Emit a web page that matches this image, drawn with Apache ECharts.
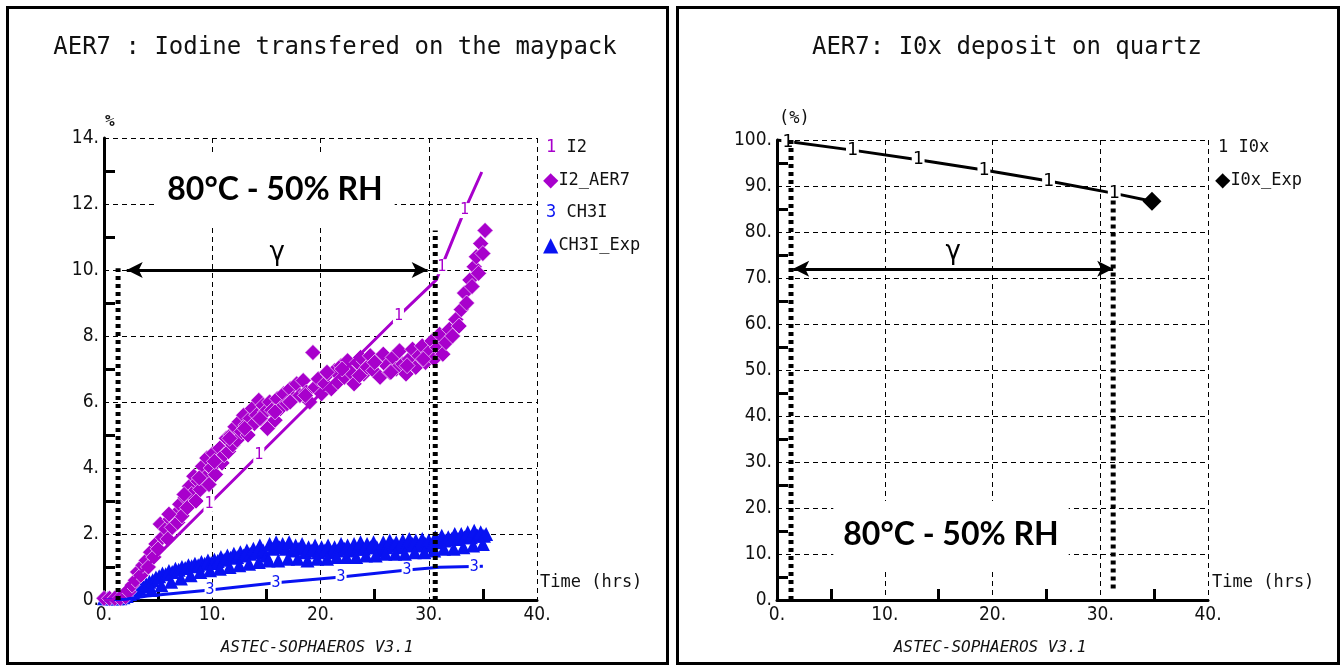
<!DOCTYPE html>
<html><head><meta charset="utf-8">
<script src="https://cdn.jsdelivr.net/npm/echarts@6/dist/echarts.min.js"></script>
<style>html,body{margin:0;padding:0;background:#fff}#c{width:1342px;height:666px}</style>
</head><body><div id="c"></div>
<script>
// ---------- DATA ----------
const leftTitle = 'AER7 : Iodine transfered on the maypack';
const rightTitle = 'AER7: I0x deposit on quartz';
const condText = '80°C - 50% RH';
const xMax = 40, xStep = 10;
const leftYMax = 14, leftYStep = 2;
const rightYMax = 100, rightYStep = 10;

// I2 simulation (curve "1")
const i2LineT = [0, 0.8, 9.7, 27.2, 30.7, 33.3, 34.9];
const i2LineV = [0, 0, 2.9, 8.6, 9.7, 11.8, 12.97];
const i2LabelT = [9.7, 14.3, 27.2, 31.2, 33.3];
const i2LabelV = [2.9, 4.4, 8.6, 10.1, 11.8];

// I2_AER7 experiment (diamonds)
const i2ExpT = [0.0,0.5,1.0,1.5,2.0,2.3,2.6,2.9,3.1,3.4,3.6,3.9,4.1,4.3,4.6,4.8,5.0,5.2,5.4,5.7,5.9,6.1,6.3,6.6,6.8,7.0,7.2,7.5,7.7,7.9,8.1,8.3,8.5,8.7,8.9,9.1,9.3,9.5,9.7,9.9,10.1,10.3,10.5,10.7,10.9,11.1,11.3,11.5,11.7,11.9,12.1,12.3,12.5,12.7,12.9,13.1,13.3,13.5,13.7,13.9,14.1,14.3,14.5,14.7,14.9,15.1,15.3,15.5,15.8,16.0,16.3,16.6,16.9,17.2,17.5,17.8,18.1,18.4,18.7,19.0,19.3,19.5,19.8,20.1,20.4,20.7,21.0,21.3,21.6,21.9,22.2,22.5,22.8,23.1,23.4,23.7,24.0,24.3,24.6,24.9,25.2,25.5,25.8,26.1,26.4,26.7,27.0,27.3,27.6,27.9,28.2,28.5,28.8,29.1,29.4,29.7,30.0,30.3,30.5,30.8,31.0,31.3,31.6,31.9,32.2,32.5,32.8,33.0,33.3,33.5,33.8,34.0,34.2,34.4,34.6,34.8,35.0,35.2,
  6.0,7.4,8.8,10.2,11.6,13.0,14.4,15.8,17.2,18.6,20.6,22.0,23.6,25.0,26.5,28.0,29.5];
const i2ExpV = [0.05,0.05,0.05,0.05,0.1,0.25,0.45,0.6,0.85,0.75,1.05,1.2,1.0,1.45,1.3,1.7,1.55,2.3,1.9,2.15,1.85,2.45,2.2,2.6,2.35,2.9,2.55,3.1,2.8,3.45,3.2,3.75,3.0,3.6,3.35,4.05,3.7,4.3,3.5,4.0,4.45,3.8,4.2,4.6,4.15,4.4,4.9,4.5,5.0,4.7,5.25,4.85,5.4,5.1,5.6,5.3,5.0,5.5,5.8,5.35,5.6,6.05,5.5,5.9,5.7,5.2,6.0,5.75,5.45,6.1,5.8,6.25,5.95,6.4,6.1,6.55,6.2,6.65,6.3,6.0,7.5,6.45,6.7,6.25,6.55,6.85,6.4,6.95,6.6,7.1,6.75,7.25,6.9,6.55,7.2,7.35,6.85,7.05,7.4,6.95,7.25,6.75,7.45,7.1,6.9,7.35,7.0,7.55,7.15,6.85,7.3,7.6,7.05,7.4,7.7,7.2,7.5,7.85,7.3,7.65,8.05,7.45,7.8,8.2,8.0,8.5,8.3,8.8,9.3,9.0,9.7,9.5,10.1,10.4,9.9,10.8,10.5,11.2,
  2.6,3.2,3.7,4.2,4.9,5.2,5.5,5.7,6.0,6.2,6.9,7.0,6.8,7.2,6.9,7.1,7.3];

// CH3I simulation (curve "3")
const ch3iLineT = [0, 2, 4, 9.8, 15.9, 21.9, 28.0, 31.0, 35.0];
const ch3iLineV = [0, 0.02, 0.12, 0.3, 0.52, 0.7, 0.91, 0.99, 1.02];
const ch3iLabelT = [9.8, 15.9, 21.9, 28.0, 34.2];
const ch3iLabelV = [0.3, 0.52, 0.7, 0.91, 1.01];

// CH3I_Exp experiment (triangles)
const ch3iExpT = [0.0,0.3,0.6,0.9,1.2,1.5,1.8,2.1,2.4,2.7,3.0,3.3,3.6,3.9,4.2,4.5,4.8,5.1,5.4,5.7,6.0,6.3,6.6,6.9,7.2,7.5,7.8,8.1,8.4,8.7,9.0,9.3,9.6,9.9,10.2,10.5,10.8,11.1,11.4,11.7,12.0,12.3,12.6,12.9,13.2,13.5,13.8,14.1,14.4,14.7,15.0,15.3,15.6,15.9,16.2,16.5,16.8,17.1,17.4,17.7,18.0,18.3,18.6,18.9,19.2,19.5,19.8,20.1,20.4,20.7,21.0,21.3,21.6,21.9,22.2,22.5,22.8,23.1,23.4,23.7,24.0,24.3,24.6,24.9,25.2,25.5,25.8,26.1,26.4,26.7,27.0,27.3,27.6,27.9,28.2,28.5,28.8,29.1,29.4,29.7,30.0,30.3,30.6,30.9,31.2,31.5,31.8,32.1,32.4,32.7,33.0,33.3,33.6,33.9,34.2,34.5,34.8,35.1,35.3,
  4.4,5.3,6.2,7.1,8.0,8.9,9.8,10.7,11.6,12.5,13.4,14.3,15.2,16.1,17.0,17.9,18.8,19.7,20.6,21.5,22.4,23.3,24.2,25.1,26.0,26.9,27.8,28.7,29.6,30.5,31.4,32.3,33.2,34.1,35.0];
const ch3iExpV = [0.05,0.05,0.05,0.05,0.05,0.05,0.08,0.12,0.18,0.22,0.3,0.35,0.42,0.48,0.55,0.6,0.68,0.72,0.8,0.78,0.88,0.85,0.95,0.92,1.0,0.97,1.05,1.02,1.1,1.05,1.15,1.1,1.2,1.12,1.22,1.18,1.3,1.22,1.35,1.28,1.4,1.3,1.45,1.35,1.5,1.4,1.55,1.45,1.65,1.5,1.35,1.7,1.55,1.75,1.6,1.7,1.55,1.75,1.5,1.65,1.55,1.7,1.45,1.6,1.5,1.65,1.45,1.6,1.5,1.65,1.45,1.6,1.5,1.7,1.55,1.65,1.5,1.7,1.55,1.75,1.55,1.7,1.6,1.75,1.6,1.5,1.75,1.6,1.8,1.65,1.75,1.6,1.8,1.65,1.85,1.7,1.8,1.65,1.85,1.7,1.8,1.65,1.9,1.75,1.95,1.8,1.9,1.85,2.0,1.85,2.0,1.9,2.05,1.9,2.1,1.95,2.05,1.95,2.0,
  0.3,0.45,0.55,0.65,0.75,0.85,0.9,0.95,1.0,1.05,1.1,1.15,1.2,1.2,1.25,1.25,1.2,1.25,1.25,1.3,1.3,1.3,1.35,1.35,1.4,1.4,1.4,1.45,1.45,1.5,1.55,1.55,1.6,1.65,1.7];

// I0x simulation (curve "1") and experiment
const i0xLineT = [0, 7.0, 13.1, 19.2, 25.2, 31.3, 34.8];
const i0xLineV = [100, 97.8, 95.7, 93.5, 91.1, 88.4, 86.7];
const i0xLabelT = [1.0, 7.0, 13.1, 19.2, 25.2, 31.3];
const i0xLabelV = [99.6, 97.8, 95.7, 93.5, 91.1, 88.4];
const i0xExpT = [34.8];
const i0xExpV = [86.7];

// gamma (γ) period markers
const gammaLeft  = {x1: 1.3, top1: 10.05, x2: 30.6, top2: 11.2, arrowY: 10, arrowFrom: 2.1, arrowTo: 29.9};
const gammaRight = {x1: 1.3, top1: 100, bottom1: 0, x2: 31.2, top2: 87, bottom2: 2.5, arrowY: 72, arrowFrom: 1.5, arrowTo: 31.2};

// ---------- CHART ----------
const zip = (a, b) => a.map((v, i) => [v, b[i]]);
const MAG = '#A800CC', BLUE = '#0812F2';
const MONO = "'DejaVu Sans Mono','Liberation Mono',monospace";
const AXF = "'DejaVu Sans Condensed','Liberation Sans Narrow','Liberation Sans',sans-serif";

function xAxisCfg(gi) {
  return {
    gridIndex: gi, type: 'value', min: 0, max: xMax, interval: xStep,
    axisLine: {show: true, onZero: false, lineStyle: {color: '#000', width: 3}},
    axisTick: {show: false, inside: true},
    minorTick: {show: true, splitNumber: 2, length: 11, lineStyle: {color: '#000', width: 3}},
    splitLine: {show: true, lineStyle: {color: '#000', width: 1, type: [5, 4]}},
    axisLabel: {formatter: v => v + '.', color: '#111', fontSize: 19, fontFamily: AXF, margin: 6}
  };
}
function yAxisCfg(gi, max, step) {
  return {
    gridIndex: gi, type: 'value', min: 0, max: max, interval: step,
    axisLine: {show: true, onZero: false, lineStyle: {color: '#000', width: 3}},
    axisTick: {show: false, inside: true},
    minorTick: {show: true, splitNumber: 2, length: 11, lineStyle: {color: '#000', width: 3}},
    splitLine: {show: true, lineStyle: {color: '#000', width: 1, type: [5, 4]}},
    axisLabel: {formatter: v => v + '.', color: '#111', fontSize: 19, fontFamily: AXF, margin: 5}
  };
}
function labelSeries(gi, t, v, txt, color, size) {
  return {
    type: 'scatter', xAxisIndex: gi, yAxisIndex: gi, data: zip(t, v),
    symbol: 'circle', symbolSize: 1, itemStyle: {color: 'rgba(0,0,0,0)', opacity: 1}, silent: true, z: 5,
    label: {show: true, position: 'inside', formatter: txt, color: color, fontSize: size,
            fontFamily: MONO, backgroundColor: '#fff', padding: [0, 1], lineHeight: size}
  };
}
function dotted(gi, x, y0, y1) {
  return {
    type: 'line', xAxisIndex: gi, yAxisIndex: gi, data: [[x, y0], [x, y1]], symbol: 'none', silent: true, z: 6,
    lineStyle: {color: '#000', width: 5, type: [4, 4], cap: 'butt'}
  };
}
function arrowSeries(gi, g) {
  return {
    type: 'line', xAxisIndex: gi, yAxisIndex: gi, data: [], silent: true, z: 6,
    markLine: {
      silent: true, animation: false, symbol: ['arrow', 'arrow'], symbolSize: [12, 16],
      lineStyle: {color: '#000', width: 3, type: 'solid'},
      label: {show: true, position: 'middle', formatter: 'γ', color: '#000', fontSize: 26,
              fontFamily: "'DejaVu Sans',sans-serif", distance: 4},
      emphasis: {disabled: true},
      data: [[{coord: [g.arrowFrom, g.arrowY]}, {coord: [g.arrowTo, g.arrowY]}]]
    }
  };
}
function txt(text, x, y, size, opts) {
  return Object.assign({
    type: 'text', z: 50,
    style: Object.assign({text: text, x: x, y: y, fontSize: size, fontFamily: MONO, fill: '#111',
      textAlign: 'left', textVerticalAlign: 'middle'}, opts || {})
  });
}

const option = {
  animation: false,
  backgroundColor: '#fff',
  grid: [
    {left: 104, top: 138, width: 433, height: 462},
    {left: 777, top: 140, width: 431, height: 460}
  ],
  xAxis: [xAxisCfg(0), xAxisCfg(1)],
  yAxis: [yAxisCfg(0, leftYMax, leftYStep), yAxisCfg(1, rightYMax, rightYStep)],
  series: [
    {name: 'CH3I_Exp', type: 'scatter', xAxisIndex: 0, yAxisIndex: 0, data: zip(ch3iExpT, ch3iExpV),
     symbol: 'triangle', symbolSize: 14, itemStyle: {color: BLUE, opacity: 1}, silent: true, z: 2},
    {name: 'I2_AER7', type: 'scatter', xAxisIndex: 0, yAxisIndex: 0, data: zip(i2ExpT, i2ExpV),
     symbol: 'diamond', symbolSize: 16, itemStyle: {color: MAG, opacity: 1, borderColor: '#fff', borderWidth: 0.6}, silent: true, z: 2},
    {name: 'CH3I', type: 'line', xAxisIndex: 0, yAxisIndex: 0, data: zip(ch3iLineT, ch3iLineV),
     symbol: 'none', lineStyle: {color: BLUE, width: 3}, silent: true, z: 3},
    {name: 'I2', type: 'line', xAxisIndex: 0, yAxisIndex: 0, data: zip(i2LineT, i2LineV),
     symbol: 'none', lineStyle: {color: MAG, width: 3}, silent: true, z: 3},
    labelSeries(0, i2LabelT, i2LabelV, '1', MAG, 15),
    labelSeries(0, ch3iLabelT, ch3iLabelV, '3', BLUE, 15),
    {name: 'I0x', type: 'line', xAxisIndex: 1, yAxisIndex: 1, data: zip(i0xLineT, i0xLineV),
     symbol: 'none', lineStyle: {color: '#000', width: 3}, silent: true, z: 3},
    labelSeries(1, i0xLabelT, i0xLabelV, '1', '#000', 18),
    {name: 'I0x_Exp', type: 'scatter', xAxisIndex: 1, yAxisIndex: 1, data: zip(i0xExpT, i0xExpV),
     symbol: 'diamond', symbolSize: 19, itemStyle: {color: '#000', opacity: 1}, silent: true, z: 4},
    dotted(0, gammaLeft.x1, 0, gammaLeft.top1),
    dotted(0, gammaLeft.x2, 0, gammaLeft.top2),
    arrowSeries(0, gammaLeft),
    dotted(1, gammaRight.x1, gammaRight.bottom1, gammaRight.top1),
    dotted(1, gammaRight.x2, gammaRight.bottom2, gammaRight.top2),
    arrowSeries(1, gammaRight)
  ],
  graphic: [
    {type: 'rect', z: 60, shape: {x: 7.5, y: 7.5, width: 660, height: 656}, style: {fill: 'none', stroke: '#000', lineWidth: 3}},
    {type: 'rect', z: 60, shape: {x: 677.5, y: 7.5, width: 661, height: 656}, style: {fill: 'none', stroke: '#000', lineWidth: 3}},
    txt(leftTitle, 335, 48, 24, {textAlign: 'center'}),
    txt(rightTitle, 1007, 48, 24, {textAlign: 'center'}),
    txt(condText, 275, 190, 32, {textAlign: 'center', fontFamily: "Lato,'Open Sans',sans-serif", fontWeight: 'bold',
        fill: '#000', backgroundColor: '#fff', padding: [20, 12]}),
    txt(condText, 951, 535, 32, {textAlign: 'center', fontFamily: "Lato,'Open Sans',sans-serif", fontWeight: 'bold',
        fill: '#000', backgroundColor: '#fff', padding: [18, 10]}),
    txt('%', 105, 122, 16, {fontWeight: 'bold'}),
    txt('(%)', 779, 119, 17),
    txt('Time (hrs)', 540, 583, 17),
    txt('Time (hrs)', 1212, 583, 17),
    txt('ASTEC-SOPHAEROS V3.1', 317, 648, 16, {textAlign: 'center', fontStyle: 'italic'}),
    txt('ASTEC-SOPHAEROS V3.1', 990, 648, 16, {textAlign: 'center', fontStyle: 'italic'}),
    txt('{m|1} I2', 546, 148, 17, {rich: {m: {fill: MAG, fontSize: 17, fontFamily: MONO}}}),
    txt('{m|◆}I2_AER7', 543, 181, 17, {rich: {m: {fill: MAG, fontSize: 20, fontFamily: "'DejaVu Sans',sans-serif"}}}),
    txt('{m|3} CH3I', 546, 213, 17, {rich: {m: {fill: BLUE, fontSize: 17, fontFamily: MONO}}}),
    txt('{m|▲}CH3I_Exp', 543, 246, 17, {rich: {m: {fill: BLUE, fontSize: 20, fontFamily: "'DejaVu Sans',sans-serif"}}}),
    txt('1 I0x', 1218, 148, 17),
    txt('{m|◆}I0x_Exp', 1215, 181, 17, {rich: {m: {fill: '#000', fontSize: 20, fontFamily: "'DejaVu Sans',sans-serif"}}})
  ]
};
const chart = echarts.init(document.getElementById('c'), null, {renderer: 'canvas'});
chart.setOption(option);
</script></body></html>
